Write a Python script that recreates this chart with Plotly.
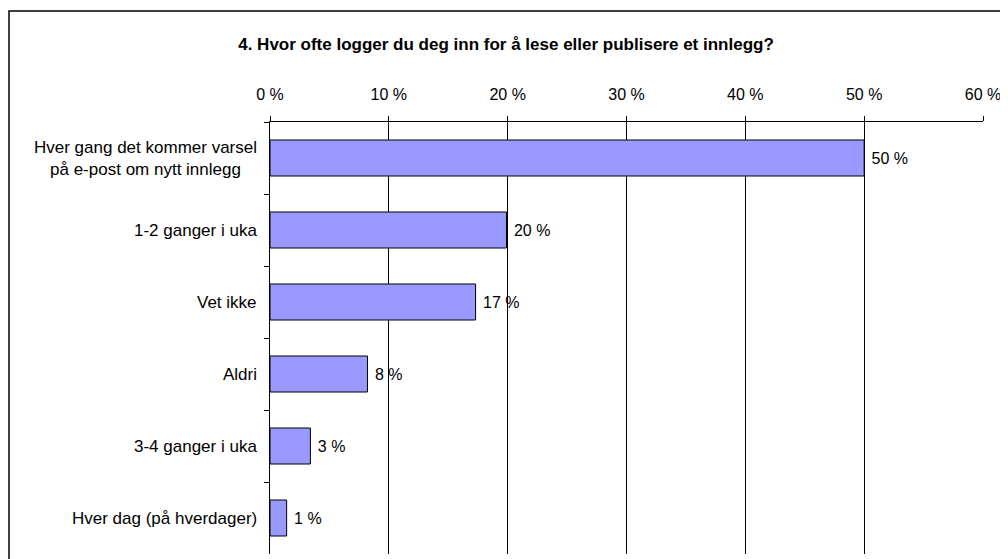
import plotly.graph_objects as go

categories = [
    "Hver gang det kommer varsel<br>på e-post om nytt innlegg",
    "1-2 ganger i uka",
    "Vet ikke",
    "Aldri",
    "3-4 ganger i uka",
    "Hver dag (på hverdager)",
]
values = [50.0, 19.9, 17.3, 8.2, 3.4, 1.4]
value_labels = ["50 %", "20 %", "17 %", "8 %", "3 %", "1 %"]
tick_vals = [0, 10, 20, 30, 40, 50, 60]
tick_labels = ["0 %", "10 %", "20 %", "30 %", "40 %", "50 %", "60 %"]

FONT = "Liberation Sans, Arial, sans-serif"

# page has an 8px body margin: figure origin sits at screen (8, 8)
L, T, PW, PH = 262, 114, 713, 432
W, H = 1008, 559

fig = go.Figure()
fig.add_trace(go.Bar(
    x=values,
    y=categories,
    orientation="h",
    marker=dict(color="#9999FF", line=dict(color="#000000", width=1)),
    text=value_labels,
    texttemplate=" %{text}",
    textposition="outside",
    textfont=dict(family=FONT, size=16, color="#000000"),
    cliponaxis=False,
    hoverinfo="skip",
))

for c in categories:
    fig.add_annotation(
        x=0, xref="paper", y=c, yref="y",
        text=c, showarrow=False, xanchor="right", align="center",
        xshift=-11, font=dict(family=FONT, size=17, color="#000000"),
    )

fig.update_layout(
    width=W, height=H,
    margin=dict(l=L, r=W - L - PW, t=T, b=H - T - PH),
    paper_bgcolor="white", plot_bgcolor="white",
    showlegend=False,
    bargap=0.5,
    title=dict(
        text="<b>4. Hvor ofte logger du deg inn for å lese eller publisere et innlegg?</b>",
        x=498 / W, xanchor="center", y=1 - 36 / H, yanchor="middle",
        font=dict(family=FONT, size=17, color="#000000"),
    ),
    font=dict(family=FONT, color="#000000"),
)

fig.update_xaxes(
    side="top", range=[0, 60],
    tickvals=tick_vals, ticktext=tick_labels,
    tickfont=dict(family=FONT, size=16, color="#000000"),
    showgrid=True, gridcolor="#000000", gridwidth=1,
    showline=True, linecolor="#000000", linewidth=1,
    ticks="outside", ticklen=5, tickcolor="#000000",
    ticklabelstandoff=10,
    zeroline=False, fixedrange=True,
)
fig.update_yaxes(
    autorange="reversed",
    showticklabels=False,
    showgrid=False,
    showline=True, linecolor="#000000", linewidth=1,
    ticks="outside", ticklen=5, tickcolor="#000000",
    tickson="boundaries",
    zeroline=False, fixedrange=True,
)

# outer chart border
fig.add_shape(
    type="rect", xref="paper", yref="paper",
    x0=(1 - L) / PW, x1=(1010 - L) / PW,
    y0=-(H + 10 - T - PH) / PH, y1=1 + (T - 3) / PH,
    line=dict(color="#000000", width=1.5), layer="below",
)

fig.write_html("out.html")
